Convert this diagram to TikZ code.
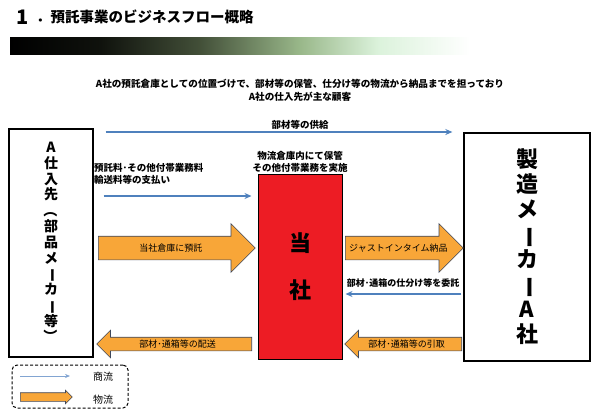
\documentclass[tikz,border=0pt]{standalone}
\usepackage{fontspec}
\setmainfont{Noto Sans CJK JP}
\usetikzlibrary{shapes.arrows, arrows.meta, positioning}

\definecolor{flow}{RGB}{248,166,56}
\definecolor{flowedge}{RGB}{62,72,92}
\definecolor{commerce}{RGB}{79,129,189}
\definecolor{commercelight}{RGB}{130,165,210}
\definecolor{warehouse}{RGB}{237,28,36}
\pgfdeclarehorizontalshading{titlebar}{100bp}{rgb(0bp)=(0,0,0); rgb(25bp)=(0,0,0);
  rgb(34.8bp)=(0.06,0.07,0.05); rgb(45.6bp)=(0.26,0.31,0.22); rgb(56.5bp)=(0.6,0.72,0.54);
  rgb(65bp)=(0.86,0.95,0.86); rgb(75bp)=(1,1,1); rgb(100bp)=(1,1,1)}
\newcommand{\tate}[1]{\rotatebox[origin=c]{-90}{#1}}

\tikzset{
  lbl/.style={font=\fontsize{9.5}{12}\selectfont\bfseries, inner sep=1pt},
  box/.style={draw, line width=1.3pt, inner sep=0pt, align=center},
  commercearrow/.style={draw=commerce, line width=1.3pt, -{Stealth[length=7pt,width=6pt]}},
  flowarrow/.style={single arrow, draw=flowedge, fill=flow, line width=0.6pt, inner sep=0pt,
    minimum width=0pt, anchor=tail, font=\fontsize{9}{11}\selectfont},
  bigflow/.style={flowarrow, single arrow head extend=12.5pt, text height=14.9pt, text depth=8.1pt},
  smallflow/.style={flowarrow, single arrow head extend=7pt, text height=9.9pt, text depth=3.1pt,
    shape border rotate=180}
}

\begin{document}
\begin{tikzpicture}[x=1pt, y=-1pt]
\useasboundingbox (0,0) rectangle (600,418);
% title
\shade[shading=titlebar] (10,37) rectangle (470,54);
\node[font=\fontsize{20}{20}\selectfont\bfseries] (titlenum) at (23,17) {1};
\node[anchor=west, inner sep=0pt, font=\fontsize{14.5}{15}\selectfont\bfseries] (titletext) at (36,17) {．預託事業のビジネスフロー概略};
\node[align=center, font=\fontsize{9.6}{13}\selectfont\bfseries] (lead) at (300,90)
  {A社の預託倉庫としての位置づけで、部材等の保管、仕分け等の物流から納品までを担っており\\A社の仕入先が主な顧客};

% parties
\node[box, minimum width=84, minimum height=228, font=\fontsize{14}{15.8}\selectfont\bfseries] (supplier) at (51,243)
  {A\\仕\\入\\先\\\tate{（}\\部\\品\\メ\\\tate{ー}\\カ\\\tate{ー}\\等\\\tate{）}};
\node[box, minimum width=126, minimum height=228, font=\fontsize{22}{25}\selectfont\bfseries] (maker) at (527,247)
  {製\\造\\メ\\\tate{ー}\\カ\\\tate{ー}\\A\\社};
\node[box, line width=1pt, fill=warehouse, minimum width=84, minimum height=185, font=\fontsize{22}{47}\selectfont\bfseries] (warehouse) at (300,266.5)
  {当\\社};
\node[lbl, align=center] (storelbl) at (300,162) {物流倉庫内にて保管\\その他付帯業務を実施};

% commerce
\node[lbl] (supplylbl) at (300,125) {部材等の供給};
\draw[commercearrow, shorten <=12pt, shorten >=11pt] (supplier.east |- 0,132) -- (maker.west |- 0,132);
\node[lbl, anchor=west, align=left] (paylbl) at (93,174) {預託料･その他付帯業務料\\輸送料等の支払い};
\draw[commercearrow, shorten <=10pt, shorten >=6pt] (supplier.east |- 0,196) -- (warehouse.west |- 0,196);
\node[lbl, font=\fontsize{9}{11}\selectfont\bfseries] (sortlbl) at (403,283) {部材･通箱の仕分け等を委託};
\draw[commercearrow, shorten <=2pt, shorten >=3pt] (maker.west |- 0,294) -- (warehouse.east |- 0,294);

% goods
\node[bigflow, minimum height=157] (consign) at (98,248) {当社倉庫に預託};
\node[bigflow, minimum height=118] (jit) at (345,248) {ジャストインタイム納品};
\node[smallflow, minimum height=117] (pickup) at (462,344) {部材･通箱等の引取};
\node[smallflow, minimum height=155] (delivery) at (252,344) {部材･通箱等の配送};

% legend
\node[draw, line width=1pt, dash pattern=on 3pt off 2pt, rounded corners=5pt, minimum width=116, minimum height=43] (legend) at (70,386.5) {};
\coordinate (lgfrom) at (20,376);
\coordinate (lgto) at (70,376);
\draw[draw=commercelight, line width=0.6pt, -{Stealth[length=5pt,width=4pt]}] (lgfrom) -- (lgto);
\node[font=\fontsize{10}{12}\selectfont] (lgcom) at (103,377) {商流};
\node[flowarrow, single arrow head extend=2.5pt, text height=4pt, text depth=4pt, minimum height=52] (lgarrow) at (20,397) {};
\node[font=\fontsize{10}{12}\selectfont] (lgflow) at (103,400) {物流};
\end{tikzpicture}
\end{document}
